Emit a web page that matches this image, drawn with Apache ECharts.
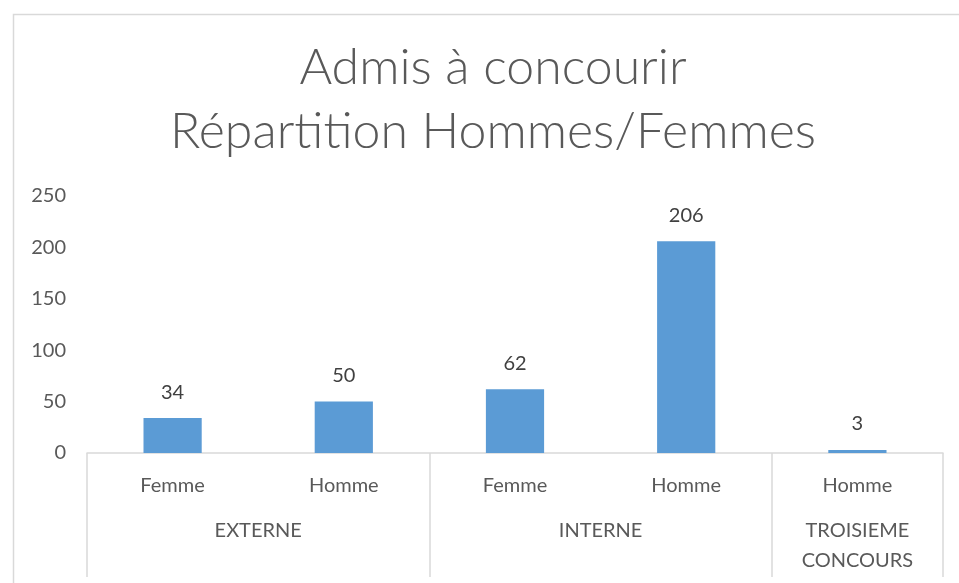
<!DOCTYPE html>
<html>
<head>
<meta charset="utf-8">
<script src="https://cdn.jsdelivr.net/npm/echarts@6/dist/echarts.min.js"></script>
<style>html,body{margin:0;padding:0;background:#fff;}#c{width:959px;height:583px;}</style>
</head>
<body>
<div id="c"></div>
<script>
const titleLines = ['Admis à concourir', 'Répartition Hommes/Femmes'];
const subCategories = ['Femme', 'Homme', 'Femme', 'Homme', 'Homme'];
const values = [34, 50, 62, 206, 3];
const groupNames = ['EXTERNE', 'INTERNE', 'TROISIEME\nCONCOURS'];
const groupSizes = [2, 2, 1];
const yTicks = [0, 50, 100, 150, 200, 250];

// group boundaries (start index of each group) and label half-slot positions
const groupStarts = [];
let acc = 0;
groupSizes.forEach(s => { groupStarts.push(acc); acc += s; });
const halfSlots = new Array(subCategories.length * 2 + 1).fill('');
groupNames.forEach((g, i) => { halfSlots[groupStarts[i] * 2 + groupSizes[i]] = g; });

const font = 'Lato, "Open Sans", sans-serif';
const chart = echarts.init(document.getElementById('c'), null, {renderer: 'canvas'});
chart.setOption({
  backgroundColor: '#fff',
  animation: false,
  graphic: [{
    type: 'rect', left: 11, top: 12, silent: true,
    shape: {width: 960, height: 600},
    style: {fill: 'none', stroke: '#d9d9d9', lineWidth: 1.5}
  }],
  title: {
    text: titleLines.join('\n'),
    left: 493, top: 36, padding: 0,
    textAlign: 'center',
    textStyle: {fontFamily: font, fontSize: 50, fontWeight: 300, lineHeight: 64, color: '#595959'}
  },
  grid: {left: 87, right: 16, top: 196, bottom: 130, containLabel: false},
  xAxis: [{
    type: 'category',
    data: subCategories,
    axisLine: {lineStyle: {color: '#d9d9d9', width: 1.5}},
    axisTick: {
      show: true, length: 124,
      interval: (idx) => groupStarts.indexOf(idx) >= 0,
      lineStyle: {color: '#d9d9d9', width: 1.5}
    },
    axisLabel: {interval: 0, margin: 23, fontFamily: font, fontSize: 20, color: '#595959'}
  }, {
    type: 'category',
    position: 'bottom',
    boundaryGap: false,
    data: halfSlots,
    axisLine: {show: false},
    axisTick: {show: false},
    axisLabel: {interval: 0, margin: 63, fontFamily: font, fontSize: 20, lineHeight: 30,
      color: '#595959', verticalAlign: 'top'}
  }],
  yAxis: {
    type: 'value', min: yTicks[0], max: yTicks[yTicks.length - 1], interval: 50,
    axisLine: {show: false}, axisTick: {show: false}, splitLine: {show: false},
    axisLabel: {margin: 21, fontFamily: font, fontSize: 20, color: '#595959'}
  },
  series: [{
    type: 'bar',
    data: values,
    xAxisIndex: 0,
    barWidth: '34%',
    itemStyle: {color: '#5b9bd5'},
    label: {show: true, position: 'top', distance: 16, fontFamily: font, fontSize: 20, color: '#404040'}
  }]
});
</script>
</body>
</html>
